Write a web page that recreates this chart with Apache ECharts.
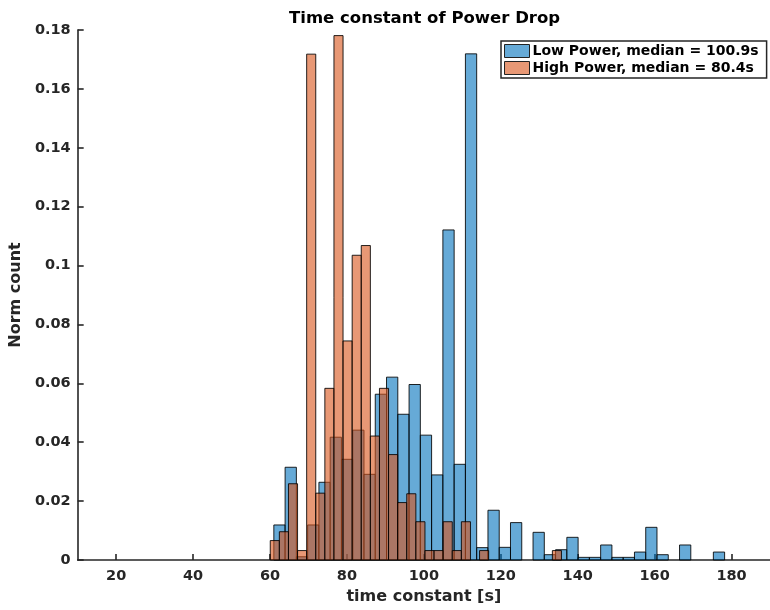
<!DOCTYPE html>
<html>
<head>
<meta charset="utf-8">
<script src="https://cdn.jsdelivr.net/npm/echarts@6/dist/echarts.min.js"></script>
<style>html,body{margin:0;padding:0;background:#fff;}#c{width:770px;height:610px;}</style>
</head>
<body>
<div id="c"></div>
<script>
// Histogram bins: uniform bins (start + width) and normalized counts
var lowBinStart = 61.0;
var lowBinWidth = 2.93;
var lowValues = [
  0.0119, 0.0315, 0.0011, 0.0119, 0.0264, 0.0417, 0.0342, 0.0441, 0.0291, 0.0563,
  0.0621, 0.0495, 0.0596, 0.0424, 0.0289, 0.1121, 0.0325, 0.1719, 0.0042, 0.0169,
  0.0043, 0.0127, 0.0000, 0.0094, 0.0018, 0.0035, 0.0077, 0.0009, 0.0009, 0.0051,
  0.0009, 0.0009, 0.0027, 0.0111, 0.0018, 0.0000, 0.0051, 0.0000, 0.0000, 0.0027
];
var highBinStart = 60.07;
var highBinWidth = 2.366;
var highValues = [
  0.0066, 0.0096, 0.0259, 0.0032, 0.1718, 0.0227, 0.0583, 0.1781, 0.0744, 0.1035,
  0.1068, 0.0421, 0.0583, 0.0358, 0.0195, 0.0225, 0.0130, 0.0032, 0.0032, 0.0130,
  0.0032, 0.0130, 0.0000, 0.0032, 0.0000, 0.0000, 0.0000, 0.0000, 0.0000, 0.0000,
  0.0000, 0.0032
];
var seriesNames = ['Low Power, median = 100.9s', 'High Power, median = 80.4s'];
var xTicks = [20, 40, 60, 80, 100, 120, 140, 160, 180];
var yTicks = [0, 0.02, 0.04, 0.06, 0.08, 0.1, 0.12, 0.14, 0.16, 0.18];

function toBins(start, width, vals) {
  var out = [];
  for (var i = 0; i < vals.length; i++) {
    out.push([start + i * width, start + (i + 1) * width, vals[i]]);
  }
  return out;
}

function renderBar(params, api) {
  var y = api.value(2);
  if (!(y > 0)) return null;
  var p0 = api.coord([api.value(0), y]);
  var p1 = api.coord([api.value(1), 0]);
  return {
    type: 'rect',
    shape: { x: p0[0], y: p0[1], width: p1[0] - p0[0], height: p1[1] - p0[1] },
    style: api.style({ stroke: 'rgba(0,0,0,0.85)', lineWidth: 1 })
  };
}

var FONT = 'DejaVu Sans';
var TXT = '#262626';
var chart = echarts.init(document.getElementById('c'), null, { renderer: 'canvas' });
chart.setOption({
  animation: false,
  backgroundColor: '#fff',
  title: {
    text: 'Time constant of Power Drop',
    left: 284, top: 5,
    textStyle: { fontFamily: FONT, fontSize: 16.5, fontWeight: 'bold', color: '#000' }
  },
  legend: {
    orient: 'vertical',
    left: 501, top: 41,
    padding: [3, 8, 3, 3],
    itemGap: 3,
    itemWidth: 25, itemHeight: 13,
    borderColor: '#262626', borderWidth: 1.5,
    backgroundColor: '#fff',
    icon: 'rect',
    itemStyle: { borderColor: '#222', borderWidth: 1 },
    textStyle: { fontFamily: FONT, fontSize: 14, fontWeight: 'bold', color: '#000', padding: [0, 0, 0, -2] },
    data: seriesNames
  },
  grid: { left: 77, top: 30, width: 700, height: 530, containLabel: false },
  xAxis: {
    type: 'value', min: 10, max: 190,
    name: 'time constant [s]', nameLocation: 'middle', nameGap: 29,
    nameTextStyle: { fontFamily: FONT, fontSize: 16, fontWeight: 'bold', color: TXT },
    axisLine: { show: true, lineStyle: { color: TXT, width: 1.6 } },
    axisTick: { show: true, inside: true, length: 6, customValues: xTicks, lineStyle: { color: TXT, width: 1.6 } },
    axisLabel: { customValues: xTicks, margin: 9, fontFamily: FONT, fontSize: 14.5, fontWeight: 'bold', color: TXT },
    splitLine: { show: false }
  },
  yAxis: {
    type: 'value', min: 0, max: 0.18, interval: 0.02,
    name: 'Norm count', nameLocation: 'middle', nameGap: 48,
    nameTextStyle: { fontFamily: FONT, fontSize: 16, fontWeight: 'bold', color: TXT },
    axisLine: { show: true, lineStyle: { color: TXT, width: 1.6 } },
    axisTick: { show: true, inside: true, length: 6, customValues: yTicks, lineStyle: { color: TXT, width: 1.6 } },
    axisLabel: { customValues: yTicks, margin: 7, fontFamily: FONT, fontSize: 14.5, fontWeight: 'bold', color: TXT },
    splitLine: { show: false }
  },
  series: [
    {
      name: seriesNames[0], type: 'custom', renderItem: renderBar,
      itemStyle: { color: 'rgba(0,114,189,0.6)' },
      encode: { x: [0, 1], y: 2 },
      data: toBins(lowBinStart, lowBinWidth, lowValues), z: 2
    },
    {
      name: seriesNames[1], type: 'custom', renderItem: renderBar,
      itemStyle: { color: 'rgba(217,83,25,0.6)' },
      encode: { x: [0, 1], y: 2 },
      data: toBins(highBinStart, highBinWidth, highValues), z: 3
    }
  ]
});
</script>
</body>
</html>
